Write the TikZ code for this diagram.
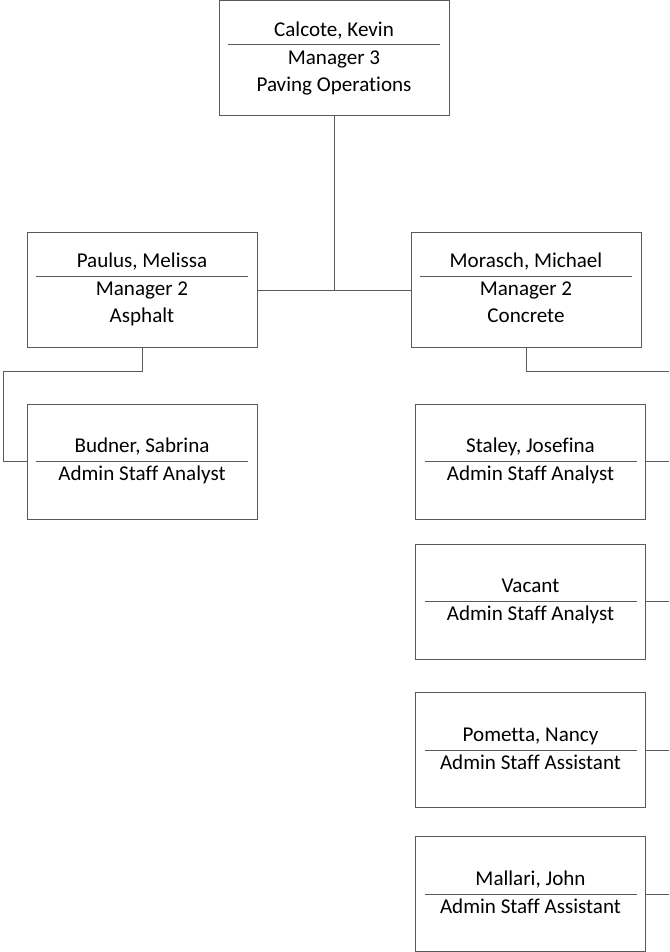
\documentclass[tikz,border=0pt]{standalone}
\usepackage{fontspec}
\setmainfont{Carlito}[Ligatures=NoCommon]
\usepackage{array,colortbl}
\usetikzlibrary{positioning}
\colorlet{linegray}{black!65}
\tikzset{orgbox/.style={rectangle,draw=linegray,line width=0.75pt,minimum width=172.5pt,minimum height=86.25pt,inner sep=0pt,font=\fontsize{15.8}{20.25}\selectfont},link/.style={draw=linegray,line width=0.75pt}}
\arrayrulecolor{linegray}
\setlength{\arrayrulewidth}{0.75pt}
\newcommand{\staff}[2]{\begin{tabular}{@{}>{\centering\arraybackslash}p{159pt}@{}}#1\\\hline #2\end{tabular}}

\begin{document}
\begin{tikzpicture}[x=0.75pt,y=-0.75pt]
\useasboundingbox (0,0) rectangle (669,952);

\node (ceo) at (334,58.5)[orgbox]{\staff{Calcote, Kevin}{Manager 3\\Paving Operations}};
\node (paulus) at (142,290)[orgbox]{\staff{Paulus, Melissa}{Manager 2\\Asphalt}};
\node (morasch) at (526,290)[orgbox]{\staff{Morasch, Michael}{Manager 2\\Concrete}};

\node (budner) at (142,461.5)[orgbox]{\staff{Budner, Sabrina}{Admin Staff Analyst}};
\node (staley) at (530.5,461.5)[orgbox]{\staff{Staley, Josefina}{Admin Staff Analyst}};
\node (vacant) at (530.5,601.5)[orgbox]{\staff{Vacant}{Admin Staff Analyst}};
\node (pometta) at (530.5,750)[orgbox]{\staff{Pometta, Nancy}{Admin Staff Assistant}};
\node (mallari) at (530.5,894)[orgbox]{\staff{Mallari, John}{Admin Staff Assistant}};

\coordinate (elbowL) at (3,371);
\coordinate (elbowR) at (669,371);

\draw[link] (paulus.east) -- (morasch.west);
\draw[link] (ceo.south) -- (ceo.south |- paulus.east);
\draw[link] (paulus.south) -- (paulus.south |- elbowL) -- (elbowL) |- (budner.west);
\draw[link] (morasch.south) -- (morasch.south |- elbowR) -- (elbowR);
\foreach \n in {staley,vacant,pometta,mallari}
  \draw[link] (\n.east) -- (\n.east -| elbowR);
\end{tikzpicture}
\end{document}
